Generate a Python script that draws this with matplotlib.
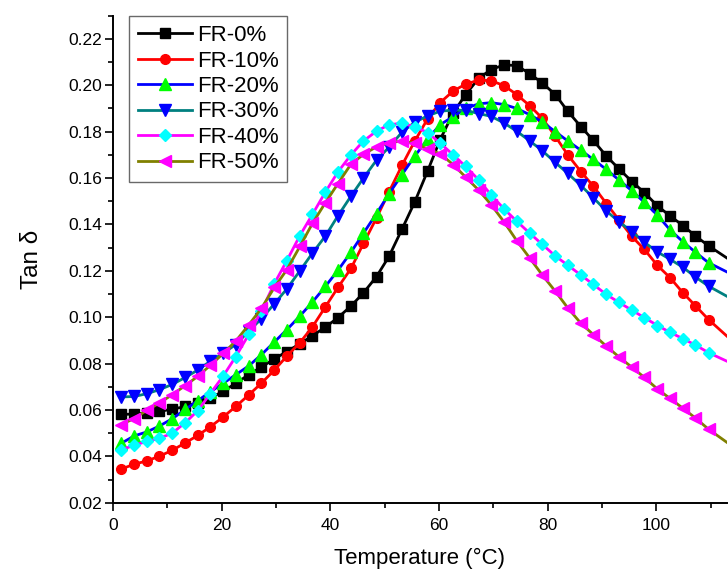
import matplotlib
matplotlib.use("Agg")
import matplotlib.pyplot as plt
from matplotlib import font_manager
from matplotlib.ticker import MultipleLocator

# temperature grid (degC); last value is where the curves leave the frame
temperature = [
    1.5, 3.9, 6.2, 8.5, 10.9, 13.3, 15.6, 17.9, 20.3, 22.6,
    25.0, 27.3, 29.7, 32.0, 34.4, 36.7, 39.1, 41.4, 43.8, 46.1,
    48.5, 50.8, 53.2, 55.5, 57.9, 60.2, 62.6, 64.9, 67.3, 69.6,
    72.0, 74.3, 76.7, 79.0, 81.4, 83.7, 86.1, 88.4, 90.8, 93.1,
    95.5, 97.8, 100.2, 102.5, 104.9, 107.2, 109.6, 113.0,
]

fr_0 = [
    0.0581, 0.0582, 0.0587, 0.0594, 0.0603, 0.0615, 0.0632, 0.0652, 0.0680, 0.0715,
    0.0752, 0.0785, 0.0820, 0.0852, 0.0885, 0.0920, 0.0957, 0.0998, 0.1048, 0.1105,
    0.1175, 0.1262, 0.1380, 0.1495, 0.1630, 0.1765, 0.1880, 0.1960, 0.2030, 0.2068,
    0.2088, 0.2085, 0.2050, 0.2010, 0.1960, 0.1888, 0.1822, 0.1762, 0.1695, 0.1640,
    0.1585, 0.1537, 0.1480, 0.1437, 0.1395, 0.1350, 0.1308, 0.1255,
]
fr_10 = [
    0.0345, 0.0366, 0.0380, 0.0400, 0.0426, 0.0458, 0.0490, 0.0527, 0.0570, 0.0615,
    0.0665, 0.0715, 0.0772, 0.0832, 0.0890, 0.0958, 0.1045, 0.1128, 0.1210, 0.1318,
    0.1428, 0.1540, 0.1655, 0.1758, 0.1855, 0.1925, 0.1975, 0.2005, 0.2022, 0.2020,
    0.1998, 0.1960, 0.1912, 0.1858, 0.1780, 0.1700, 0.1628, 0.1565, 0.1490, 0.1420,
    0.1348, 0.1292, 0.1223, 0.1171, 0.1105, 0.1049, 0.0990, 0.0918,
]
fr_20 = [
    0.0456, 0.0488, 0.0505, 0.0530, 0.0562, 0.0602, 0.0640, 0.0678, 0.0715, 0.0752,
    0.0790, 0.0838, 0.0893, 0.0946, 0.1005, 0.1065, 0.1133, 0.1202, 0.1280, 0.1362,
    0.1447, 0.1532, 0.1615, 0.1693, 0.1768, 0.1830, 0.1865, 0.1900, 0.1920, 0.1925,
    0.1917, 0.1900, 0.1873, 0.1842, 0.1800, 0.1760, 0.1720, 0.1680, 0.1637, 0.1592,
    0.1545, 0.1495, 0.1440, 0.1377, 0.1325, 0.1280, 0.1235, 0.1195,
]
fr_30 = [
    0.0656, 0.0658, 0.0670, 0.0687, 0.0710, 0.0740, 0.0772, 0.0810, 0.0845, 0.0882,
    0.0940, 0.0993, 0.1058, 0.1122, 0.1200, 0.1276, 0.1350, 0.1437, 0.1522, 0.1600,
    0.1677, 0.1733, 0.1798, 0.1840, 0.1868, 0.1888, 0.1893, 0.1892, 0.1878, 0.1866,
    0.1837, 0.1802, 0.1760, 0.1718, 0.1667, 0.1620, 0.1568, 0.1515, 0.1458, 0.1412,
    0.1369, 0.1323, 0.1281, 0.1250, 0.1215, 0.1173, 0.1134, 0.1090,
]
fr_40 = [
    0.0428, 0.0448, 0.0464, 0.0477, 0.0500, 0.0545, 0.0597, 0.0670, 0.0747, 0.0830,
    0.0926, 0.1027, 0.1145, 0.1244, 0.1352, 0.1443, 0.1540, 0.1626, 0.1700, 0.1760,
    0.1802, 0.1830, 0.1836, 0.1822, 0.1796, 0.1751, 0.1700, 0.1650, 0.1592, 0.1527,
    0.1466, 0.1414, 0.1362, 0.1314, 0.1264, 0.1224, 0.1182, 0.1141, 0.1098, 0.1064,
    0.1030, 0.0998, 0.0964, 0.0935, 0.0907, 0.0880, 0.0847, 0.0810,
]
fr_50 = [
    0.0537, 0.0563, 0.0598, 0.0629, 0.0666, 0.0705, 0.0745, 0.0792, 0.0844, 0.0897,
    0.0967, 0.1038, 0.1128, 0.1205, 0.1305, 0.1404, 0.1494, 0.1576, 0.1660, 0.1702,
    0.1735, 0.1752, 0.1760, 0.1750, 0.1725, 0.1705, 0.1658, 0.1604, 0.1548, 0.1485,
    0.1410, 0.1330, 0.1255, 0.1182, 0.1112, 0.1040, 0.0974, 0.0925, 0.0875, 0.0829,
    0.0784, 0.0740, 0.0690, 0.0650, 0.0607, 0.0565, 0.0517, 0.0460,
]

labels = ["FR-0%", "FR-10%", "FR-20%", "FR-30%", "FR-40%", "FR-50%"]
series = [fr_0, fr_10, fr_20, fr_30, fr_40, fr_50]

# (line colour, marker, marker colour, marker size)
styles = [
    ("#000000", "s", "#000000", 6.5),
    ("#FF0000", "o", "#FF0000", 7.0),
    ("#0000FF", "^", "#00FF00", 8.0),
    ("#008080", "v", "#0000FF", 8.0),
    ("#FF00FF", "D", "#00FFFF", 6.5),
    ("#808000", "<", "#FF00FF", 8.0),
]

available = {f.name for f in font_manager.fontManager.ttflist}
base_font = "Liberation Sans" if "Liberation Sans" in available else "DejaVu Sans"

plt.rcParams["font.family"] = base_font


def main() -> None:
    fig = plt.figure(figsize=(7.28, 5.71), dpi=100)
    ax = fig.add_axes([0.1552, 0.1196, 0.8434, 0.8529])

    for values, label, (lc, mk, mc, ms) in zip(series, labels, styles):
        ax.plot(
            temperature,
            values,
            color=lc,
            linewidth=2.0,
            marker=mk,
            markersize=ms,
            markerfacecolor=mc,
            markeredgecolor=mc,
            markevery=slice(0, len(values) - 1),
            label=label,
        )

    ax.set_xlim(0, 113)
    ax.set_ylim(0.02, 0.23)

    ax.xaxis.set_major_locator(MultipleLocator(20))
    ax.xaxis.set_minor_locator(MultipleLocator(10))
    ax.yaxis.set_major_locator(MultipleLocator(0.02))
    ax.yaxis.set_minor_locator(MultipleLocator(0.01))
    ax.yaxis.set_major_formatter(matplotlib.ticker.FormatStrFormatter("%.2f"))

    for side in ["top", "right"]:
        ax.spines[side].set_visible(False)
    for side in ["left", "bottom"]:
        ax.spines[side].set_linewidth(1.4)

    ax.tick_params(which="major", direction="out", length=6, width=1.2)
    ax.tick_params(which="minor", direction="out", length=3.5, width=1.2)
    ax.tick_params(axis="y", labelsize=12.5, pad=2)
    ax.tick_params(axis="x", labelsize=12.5, pad=5)

    ax.set_xlabel("Temperature (°C)", fontsize=16, labelpad=11)
    ax.set_ylabel("Tan δ", fontsize=17.5, labelpad=18)

    leg = ax.legend(
        loc="upper left",
        bbox_to_anchor=(0.026, 0.999),
        borderaxespad=0,
        fontsize=16,
        frameon=True,
        fancybox=False,
        edgecolor="#444444",
        handlelength=2.45,
        handletextpad=0.2,
        labelspacing=0.2,
        borderpad=0.4,
    )
    leg.get_frame().set_linewidth(1.0)

    fig.savefig("out.png", dpi=100)


if __name__ == "__main__":
    main()
